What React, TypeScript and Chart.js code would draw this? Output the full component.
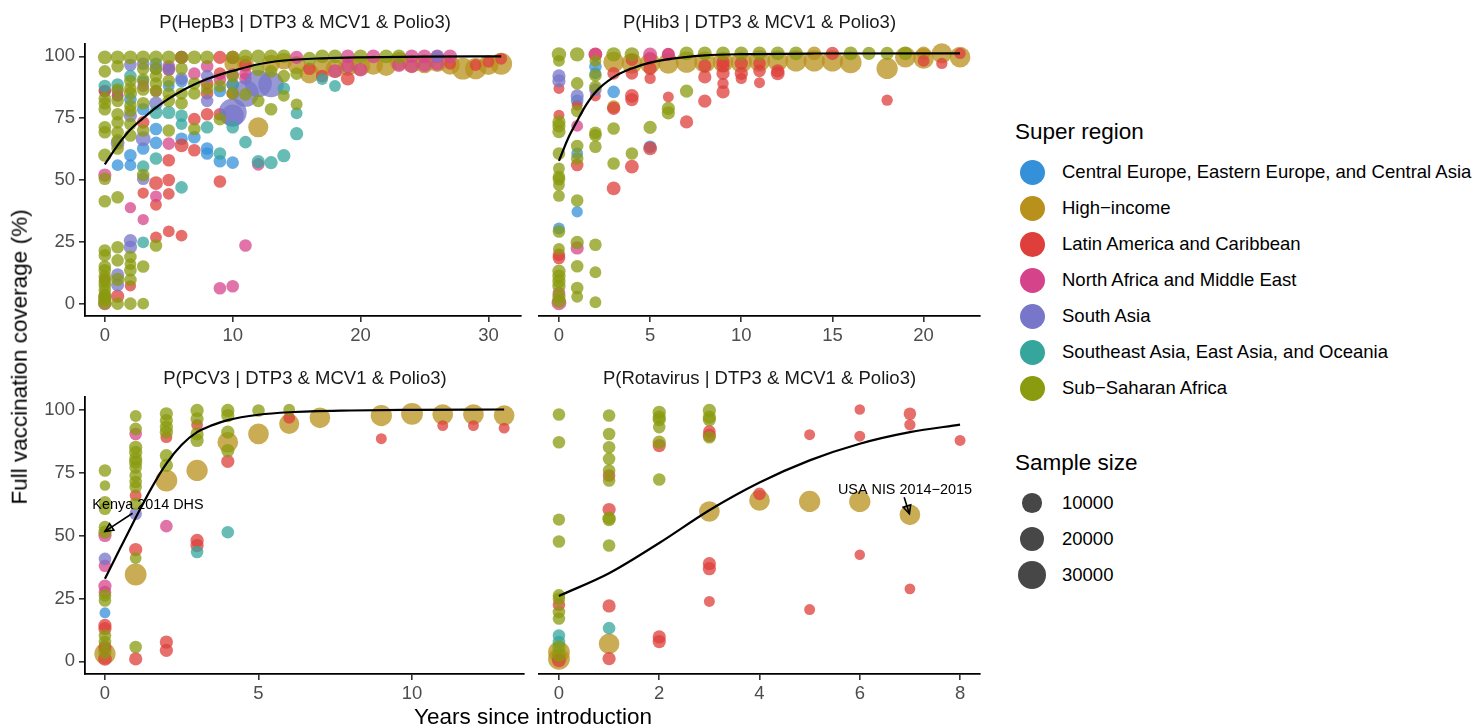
import React, { useEffect, useRef } from "react";
import { Chart, registerables } from "chart.js";
Chart.register(...registerables);

type Pt = [number, number, number]; // [years since introduction, coverage %, sample size]

// ---------------- Legend / categories ----------------
const REGION_NAMES = [
  "Central Europe, Eastern Europe, and Central Asia",
  "High\u2212income",
  "Latin America and Caribbean",
  "North Africa and Middle East",
  "South Asia",
  "Southeast Asia, East Asia, and Oceania",
  "Sub\u2212Saharan Africa",
];
const REGION_COLORS = ["#3490D8", "#B8901C", "#DE3F3B", "#D5448A", "#7776C8", "#36A69D", "#8A9B0F"];
const SAMPLE_SIZE_BREAKS = [10000, 20000, 30000];
const Y_TICKS = [0, 25, 50, 75, 100];

// ---------------- Panel 1: HepB3 ----------------
const HEPB3_CE: Pt[] = [[0,86,1500],[1,84,1500],[1,56,1500],[2,82.6,2000],[2,60,2000],[2,56,1500],[3,90,1500],[3,78.6,2000],[3,62.7,2000],[4,97,2000],[4,70.6,2000],[4,65,2000],[5,88,1500],[6,90,2000],[6,66.7,2000],[7,67.3,2000],[8,62.7,2000],[8,60.7,2000],[9,86,2000],[9,57.6,2000],[10,57,2000]];
const HEPB3_HI: Pt[] = [[10,97,6000],[11,97,6000],[12,71.3,11000],[13,97,8000],[14,98,6000],[15,96.5,8000],[16,93,10000],[17,96,9000],[18,95,9000],[19,96,10000],[20,96,10000],[21,96.5,10000],[22,96,10000],[23,98,9000],[24,97,8000],[25,97,9000],[26,97.5,9000],[27,96.5,10000],[28,95,14000],[29,95,13000],[30,96.5,11000],[31,97,14000]];
const HEPB3_LA: Pt[] = [[0,86,2000],[0,10,1500],[1,3,2500],[2,7.2,1200],[3,73.3,2000],[3,44.7,1200],[4,48.7,3000],[4,40,1500],[4,26.8,1500],[5,94.6,2000],[5,58,2000],[5,50,2000],[5,44.4,1500],[5,29.2,1500],[6,99.6,2500],[6,64,3000],[6,27.5,1500],[7,74.6,2000],[7,62,2000],[8,89,2000],[8,85,2000],[8,76.6,2000],[9,99.6,2500],[9,93,2000],[9,76.6,2000],[9,49.4,2000],[10,99.6,2500],[10,85,2000],[11,96.5,2000],[16,95,2000],[17,92,2000],[19,91,3000],[27,97,1500],[29,96.5,1500],[30,97.8,1500],[31,99,1500]];
const HEPB3_NA: Pt[] = [[0,52,2500],[0,3,2000],[0,0,2500],[1,86,1500],[1,84,1500],[2,38.8,1200],[3,88,1500],[3,34,1200],[4,86,1500],[4,43.4,1500],[5,96,2000],[5,64.7,2000],[6,99.6,2500],[7,93,2000],[8,96,2000],[9,90.6,2000],[9,6.2,2000],[10,92.6,2000],[10,88.6,2000],[10,7,2000],[11,93,2000],[11,91,2000],[11,23.5,2000],[12,56.3,2000],[15,99.6,2500],[18,94,3000],[19,100,3000],[19,96,3000],[20,94.6,3000],[21,100,3000],[23,96.5,3000],[24,100,3000],[24,96,3000],[25,100,3000],[25,96.5,3000],[26,100,3000],[26,97,3000],[27,100,3000]];
const HEPB3_SA: Pt[] = [[1,65,3000],[1,11.6,2500],[1,7.6,2500],[2,96.5,2000],[2,76,2500],[2,25.5,2500],[2,22.8,2500],[3,97,2000],[3,66.7,4000],[3,50.5,2000],[4,95,2000],[4,81,3000],[5,95,2000],[6,91,2000],[8,92,2000],[8,82,2000],[10,77.3,28000],[10,76,15000],[11,85,25000],[12,89,26000],[13,88.6,22000],[26,100,2000]];
const HEPB3_SE: Pt[] = [[0,88,2000],[1,88.6,2000],[2,92,2000],[3,55.4,2000],[3,24.8,1500],[4,77.3,2500],[4,58.7,2000],[5,77.3,2500],[6,76,2000],[6,72.6,1500],[6,47,2000],[8,71.3,2000],[9,60.7,2000],[10,88.6,2000],[10,71.3,2000],[11,65.3,2000],[12,57.4,2500],[13,57,2500],[14,87,2000],[14,59.8,2500],[15,77,1500],[15,68.7,2500],[17,90.8,1500],[18,88,1500]];
const HEPB3_SS: Pt[] = [[0,99.6,3000],[0,93.9,2000],[0,83,2000],[0,81,2000],[0,78.6,2000],[0,71.3,2000],[0,69.3,2000],[0,60,2500],[0,50.5,2000],[0,41.4,2000],[0,21.5,2000],[0,19.5,2000],[0,15,2000],[0,13.5,2000],[0,11,2000],[0,9,2000],[0,7.5,2000],[0,5.6,2000],[0,3.6,2000],[0,2.5,2500],[0,1.6,2500],[0,0.3,3000],
  [1,99.6,3000],[1,96,2000],[1,86.6,2000],[1,82,2000],[1,76.6,2000],[1,73.3,2000],[1,69.3,2000],[1,66,2000],[1,62.7,2000],[1,43,2000],[1,22.8,2000],[1,17.5,2000],[1,9.8,2500],[1,0,2000],
  [2,99.6,3000],[2,90,2000],[2,87,2000],[2,85,2500],[2,80,2000],[2,78,2000],[2,72.6,2000],[2,68,2000],[2,18.9,2000],[2,16,1500],[2,13.5,2000],[2,9.6,2000],[2,0,2000],
  [3,99.6,3000],[3,95,2000],[3,90.6,2000],[3,86.6,2000],[3,81,2000],[3,70,2000],[3,52,2000],[3,15,2000],[3,0,1500],
  [4,99.6,3000],[4,95,2000],[4,92,2000],[4,89,2000],[4,86,2000],[4,23.5,2000],
  [5,99.6,3000],[5,90,2000],[5,85,2000],[5,82,2000],[5,70,2000],
  [6,99.6,2500],[6,95,2000],[6,85,2000],[6,81,2000],
  [7,99.6,3000],[7,89,2000],[7,85,2000],[7,70.6,2000],
  [8,99.6,3000],[8,87,2000],[9,88,2000],[9,74.6,2000],
  [10,99.6,3000],[10,92,2000],[10,85,2000],[11,100,3000],[11,84.6,2000],
  [12,100,3000],[12,94.6,2000],[12,82,2000],[13,100,3000],[13,93.9,2000],[13,78.6,2000],
  [14,100,3000],[14,92,2000],[14,84,1500],[15,93,2000],[15,80.6,1500],
  [16,99,3000],[17,100,3000],[18,100,3000],[20,100,3000],[22,100,3000],[23,100,3000]];
const HEPB3_CURVE_X = [0,1,2,3,4,5,6,7,8,9,10,12,14,17,20,25,31];
const HEPB3_CURVE_Y = [56.3,64,70.4,75,79.3,82.9,86,88.6,90.8,92.6,94.1,96.8,98.3,99.2,99.6,99.9,100];
const HEPB3_X_TICKS = [0, 10, 20, 30];

// ---------------- Panel 2: Hib3 ----------------
const HIB3_CE: Pt[] = [[0,30,1500],[1,81,2000],[1,60,1500],[1,36.7,1200],[2,94.8,2000],[2,92,1500],[3,84.6,2000],[5,62.7,2000]];
const HIB3_HI: Pt[] = [[3,96.5,12000],[3,78.6,2500],[4,96,12000],[5,96,12000],[6,96,12000],[7,96.5,13000],[8,96.5,13000],[9,96.5,12000],[10,96.5,13000],[11,97,13000],[12,97,12000],[13,97,13000],[14,100,3000],[14,97,13000],[15,97,13000],[16,96.4,14000],[18,94,13000],[19,98.5,12000],[20,100,3000],[20,98,12000],[21,100,11000],[22,98.5,12000]];
const HIB3_LA: Pt[] = [[0,86,1000],[0,75.3,1000],[0,19.5,2000],[0,18.2,2000],[1,79.3,1000],[1,55.4,2000],[2,99.6,3000],[2,83,1000],[3,92,2000],[3,78,2500],[3,46,3000],[4,97.5,2000],[4,92,2000],[4,83,3000],[4,81.5,2500],[4,54.7,3000],[5,98,2500],[5,93.9,2500],[5,90,1200],[5,62,3000],[6,99.6,2000],[6,82.6,1000],[7,72.6,2500],[8,95,2500],[8,90.6,2500],[8,80.9,2500],[9,96.5,2500],[9,95,2500],[9,92,2500],[9,88,1200],[9,84.6,2500],[10,96,2500],[10,92,2500],[10,90,1200],[11,96,2000],[11,93,2000],[11,88.3,1000],[12,93,2500],[12,92,3000],[15,100,2500],[18,81.3,1200],[20,97,1500],[21,96,1200],[22,100,1200]];
const HIB3_NA: Pt[] = [[0,4.2,2000],[0,0.3,4000],[1,71,1500],[1,22.2,2500],[2,99.6,2500],[5,99.6,3000],[6,99.6,2500]];
const HIB3_SA: Pt[] = [[0,91,2500],[0,89,2500],[1,83,2500],[2,85.5,2000]];
const HIB3_SE: Pt[] = [];
const HIB3_SS: Pt[] = [[0,99.6,3500],[0,97,1500],[0,72.6,2500],[0,71,2500],[0,68.7,2500],[0,60,2000],[0,54,1500],[0,50.7,2000],[0,49.7,2000],[0,47.4,1500],[0,43,1500],[0,28.8,2000],[0,21.8,1500],[0,12.9,2500],[0,10.9,2500],[0,8.9,2500],[0,6.9,2500],[0,2.9,2500],[0,1,3000],
  [1,99.6,3500],[1,88,2000],[1,77,2000],[1,63,2000],[1,58,2000],[1,41.2,2000],[1,24.4,2500],[1,14.9,2000],[1,6.2,2000],[1,2.7,1500],
  [2,97,1500],[2,91.2,2000],[2,86.6,2000],[2,68.3,2000],[2,67.3,2000],[2,62.7,2000],[2,23.5,2000],[2,12.5,1500],[2,0.5,1500],
  [3,99.6,3500],[3,70,2000],[3,56,2000],[4,99.6,3500],[4,60,2000],[5,70.4,2500],[6,78,2500],[6,76.2,2500],
  [7,100,3000],[7,84.9,2500],[8,100,3000],[9,100,3000],[10,100,3000],[11,100,3000],[12,100,3000],[13,100,3000],[16,100,3000],[17,100,2500],[18,100,2500],[19,100,3000]];
const HIB3_CURVE_X = [0,0.5,1,1.5,2,3,4,5,6,8,10,14,22];
const HIB3_CURVE_Y = [57,66,73,79.5,84.5,90.5,94,96.3,97.7,99.2,99.7,99.95,100];
const HIB3_X_TICKS = [0, 5, 10, 15, 20];

// ---------------- Panel 3: PCV3 ----------------
const PCV3_CE: Pt[] = [[0,19.3,1000]];
const PCV3_HI: Pt[] = [[0,3,13000],[1,34.5,14000],[2,71.8,14000],[3,75.8,13000],[4,87,12000],[5,90.3,12000],[6,94.3,11000],[7,96.7,12000],[9,97.6,13000],[10,98.3,14000],[11,98,12000],[12,98,12000],[13,97.6,12000]];
const PCV3_LA: Pt[] = [[0,14.3,2500],[0,13,2500],[0,5.7,2500],[0,1,3000],[1,65.9,1500],[1,44.4,2500],[1,1,2500],[2,89,1500],[2,7.7,2500],[2,4.4,2500],[3,93.9,1500],[3,48,2500],[3,46,2500],[4,79.4,2500],[6,96.7,1500],[9,88.4,1000],[11,93.6,1000],[12,93.6,1000],[13,92.6,1000]];
const PCV3_NA: Pt[] = [[0,50,2500],[0,38,2000],[0,29.9,2500],[0,27.5,2000],[1,90.3,2000],[2,53.7,2000]];
const PCV3_SA: Pt[] = [[0,40.7,2000],[1,58.6,2000]];
const PCV3_SE: Pt[] = [[3,43.4,2000],[4,51.3,2000]];
const PCV3_SS: Pt[] = [[0,75.8,2000],[0,69.8,800],[0,63.2,2000],[0,60.6,2000],[0,53.3,2000],[0,51.3,2500],[0,26.2,2000],[0,24.2,2000],[0,10.3,2000],[0,7.7,2000],[0,3.7,2500],
  [1,97.4,1500],[1,92.3,2000],[1,85,2500],[1,83,2500],[1,80.4,2500],[1,79,2500],[1,77,2000],[1,73.8,2000],[1,71.2,2000],[1,69.2,2000],[1,62.6,2000],[1,41,1500],[1,5.7,2000],
  [2,98.3,2500],[2,95.6,2500],[2,93,2500],[2,91,2500],[2,81.7,2500],[2,77.8,2500],
  [3,99.6,2500],[3,96.3,2500],[3,90.3,2500],[3,87.7,2500],
  [4,99.6,2500],[4,97.6,2500],[4,91,2500],[4,83.7,2500],[5,99.6,2000],[6,99.9,1500]];
const PCV3_CURVE_X = [0,0.5,1,1.5,2,2.5,3,3.5,4,5,6,8,10,13];
const PCV3_CURVE_Y = [32.8,45,57,68.5,78.5,86,91,93.8,95.8,97.9,98.9,99.6,99.85,100];
const PCV3_X_TICKS = [0, 5, 10];

// ---------------- Panel 4: Rotavirus ----------------
const ROTA_CE: Pt[] = [];
const ROTA_HI: Pt[] = [[0,3.7,14000],[0,1,14000],[1,7,12000],[3,59.5,12000],[4,63.9,12000],[5,63.5,13000],[6,63.5,13000],[7,58.2,12000]];
const ROTA_LA: Pt[] = [[0,22.5,2000],[0,0.4,3000],[1,73.8,2000],[1,60.3,2500],[1,22,2500],[1,1.1,2500],[2,85.7,2500],[2,9.7,2500],[2,7.9,2500],[3,91.3,2000],[3,89.7,2500],[3,38.8,2500],[3,36.8,2500],[3,23.8,1000],[4,66.5,2000],[5,90,1000],[5,20.6,1000],[6,100,800],[6,89.4,1000],[6,42.3,800],[7,98.3,2000],[7,93.9,1200],[7,28.8,900],[8,87.7,1000]];
const ROTA_NA: Pt[] = [];
const ROTA_SA: Pt[] = [];
const ROTA_SE: Pt[] = [[0,10.3,2000],[0,7.7,2000],[1,13.2,2000]];
const ROTA_SS: Pt[] = [[0,98,2000],[0,87,2000],[0,56.3,1800],[0,47.6,2000],[0,26.2,2000],[0,24.9,2000],[0,19.6,2000],[0,17,2000],[0,5.7,2500],[0,2.4,3000],
  [1,97.6,2000],[1,90.3,2000],[1,85,2000],[1,80.4,2000],[1,75.8,2000],[1,71.8,2000],[1,56.9,2500],[1,56.3,2500],[1,46,2000],
  [2,98.9,2500],[2,97,2500],[2,96,2500],[2,93,2000],[2,87,2500],[2,72.2,2000],
  [3,99.6,2500],[3,97,2500],[3,96,2500],[3,89,2000]];
const ROTA_CURVE_X = [0,1,2,3,4,5,6,7,8];
const ROTA_CURVE_Y = [26,35,47,60,71,79.8,86.4,91,94];
const ROTA_X_TICKS = [0, 2, 4, 6, 8];

// ---------------- Annotations (data coordinates) ----------------
const KENYA_NOTE = { text: "Kenya 2014 DHS", at: [1.4, 62], from: [0.9, 58.8], to: [0.0, 51.6] };
const USA_NOTE = { text: "USA NIS 2014\u22122015", at: [6.9, 67.9], from: [6.885, 65.2], to: [6.99, 58.6] };

// ---------------- Layout ----------------
const FONT = '"Liberation Sans", Arial, Helvetica, sans-serif';
const YW = 85;
const XH = 34;
const PAD = 10;

type PanelCfg = {
  title: string;
  series: Pt[][];
  curveX: number[];
  curveY: number[];
  xRange: [number, number];
  xTicks: number[];
  showY: boolean;
  area: { left: number; top: number; right: number; bottom: number };
  notes: typeof KENYA_NOTE[];
};

const PANELS: PanelCfg[] = [
  { title: "P(HepB3 | DTP3 & MCV1 & Polio3)", series: [HEPB3_CE, HEPB3_HI, HEPB3_LA, HEPB3_NA, HEPB3_SA, HEPB3_SE, HEPB3_SS], curveX: HEPB3_CURVE_X, curveY: HEPB3_CURVE_Y, xRange: [-1.55, 32.55], xTicks: HEPB3_X_TICKS, showY: true, area: { left: 85, top: 40, right: 525, bottom: 316 }, notes: [] },
  { title: "P(Hib3 | DTP3 & MCV1 & Polio3)", series: [HIB3_CE, HIB3_HI, HIB3_LA, HIB3_NA, HIB3_SA, HIB3_SE, HIB3_SS], curveX: HIB3_CURVE_X, curveY: HIB3_CURVE_Y, xRange: [-1.1, 23.1], xTicks: HIB3_X_TICKS, showY: false, area: { left: 538, top: 40, right: 981, bottom: 316 }, notes: [] },
  { title: "P(PCV3 | DTP3 & MCV1 & Polio3)", series: [PCV3_CE, PCV3_HI, PCV3_LA, PCV3_NA, PCV3_SA, PCV3_SE, PCV3_SS], curveX: PCV3_CURVE_X, curveY: PCV3_CURVE_Y, xRange: [-0.65, 13.65], xTicks: PCV3_X_TICKS, showY: true, area: { left: 85, top: 396, right: 525, bottom: 674 }, notes: [KENYA_NOTE] },
  { title: "P(Rotavirus | DTP3 & MCV1 & Polio3)", series: [ROTA_CE, ROTA_HI, ROTA_LA, ROTA_NA, ROTA_SA, ROTA_SE, ROTA_SS], curveX: ROTA_CURVE_X, curveY: ROTA_CURVE_Y, xRange: [-0.4, 8.4], xTicks: ROTA_X_TICKS, showY: false, area: { left: 538, top: 396, right: 981, bottom: 674 }, notes: [USA_NOTE] },
];

// draw order: Sub-Saharan on top, High-income at the bottom
const DRAW_ORDER = [6, 7, 5, 4, 3, 2, 1];

const sizeToRadius = (n: number) => 3.5 + 0.0625 * Math.sqrt(n);
const rgba = (hex: string, a: number) => {
  const v = parseInt(hex.slice(1), 16);
  return `rgba(${v >> 16},${(v >> 8) & 255},${v & 255},${a})`;
};

function Panel({ cfg }: { cfg: PanelCfg }) {
  const ref = useRef<HTMLCanvasElement>(null);
  const canvasLeft = cfg.area.left - (cfg.showY ? YW : PAD);
  const canvasTop = cfg.area.top - PAD;
  const width = cfg.area.right - canvasLeft + PAD;
  const height = cfg.area.bottom - canvasTop + XH;

  useEffect(() => {
    if (!ref.current) return;
    const datasets: any[] = cfg.series.map((pts, i) => ({
      type: "bubble",
      data: pts.map(([x, y, n]) => ({ x, y, r: sizeToRadius(n) })),
      backgroundColor: rgba(REGION_COLORS[i], 0.75),
      borderWidth: 0,
      order: DRAW_ORDER[i],
    }));
    datasets.push({
      type: "line",
      data: cfg.curveX.map((x, i) => ({ x, y: cfg.curveY[i] })),
      borderColor: "#000",
      borderWidth: 2.2,
      pointRadius: 0,
      cubicInterpolationMode: "monotone",
      fill: false,
      order: 0,
    });

    const notesPlugin = {
      id: "notes",
      afterDatasetsDraw(chart: any) {
        const ctx = chart.ctx as CanvasRenderingContext2D;
        const xs = chart.scales.x, ys = chart.scales.y;
        cfg.notes.forEach((note) => {
          ctx.save();
          ctx.fillStyle = "#000";
          ctx.font = `14.4px ${FONT}`;
          ctx.textAlign = "center";
          ctx.textBaseline = "middle";
          ctx.fillText(note.text, xs.getPixelForValue(note.at[0]), ys.getPixelForValue(note.at[1]));
          const x0 = xs.getPixelForValue(note.from[0]), y0 = ys.getPixelForValue(note.from[1]);
          const x1 = xs.getPixelForValue(note.to[0]), y1 = ys.getPixelForValue(note.to[1]);
          ctx.strokeStyle = "#000";
          ctx.lineWidth = 1.6;
          ctx.beginPath();
          ctx.moveTo(x0, y0);
          ctx.lineTo(x1, y1);
          ctx.stroke();
          const ang = Math.atan2(y1 - y0, x1 - x0);
          const L = 9, A = Math.PI / 7;
          ctx.beginPath();
          ctx.moveTo(x1 - L * Math.cos(ang - A), y1 - L * Math.sin(ang - A));
          ctx.lineTo(x1, y1);
          ctx.lineTo(x1 - L * Math.cos(ang + A), y1 - L * Math.sin(ang + A));
          ctx.closePath();
          ctx.stroke();
          ctx.restore();
        });
      },
    };

    const tickFont = { family: FONT, size: 18.5 };
    const chart = new Chart(ref.current, {
      type: "bubble",
      data: { datasets },
      options: {
        responsive: false,
        animation: false,
        devicePixelRatio: 1,
        events: [],
        layout: { padding: { top: PAD, right: PAD, left: cfg.showY ? 0 : PAD, bottom: 0 } },
        plugins: { legend: { display: false }, tooltip: { enabled: false }, title: { display: false } },
        scales: {
          x: {
            type: "linear",
            min: cfg.xRange[0],
            max: cfg.xRange[1],
            afterBuildTicks: (s: any) => { s.ticks = cfg.xTicks.map((v) => ({ value: v })); },
            afterFit: (s: any) => { s.height = XH; s.paddingLeft = 0; s.paddingRight = 0; s.paddingTop = 0; s.paddingBottom = 0; },
            grid: { display: true, drawOnChartArea: false, drawTicks: true, tickLength: 6, color: "#333", lineWidth: 1.6 },
            border: { display: true, color: "#000", width: 1.8 },
            ticks: { color: "#4d4d4d", font: tickFont, padding: 3, maxRotation: 0, autoSkip: false },
          },
          y: {
            type: "linear",
            display: cfg.showY,
            min: -5,
            max: 105,
            afterBuildTicks: (s: any) => { s.ticks = Y_TICKS.map((v) => ({ value: v })); },
            afterFit: (s: any) => { s.width = cfg.showY ? YW : 0; s.paddingLeft = 0; s.paddingRight = 0; s.paddingTop = 0; s.paddingBottom = 0; },
            grid: { display: true, drawOnChartArea: false, drawTicks: true, tickLength: 6, color: "#333", lineWidth: 1.6 },
            border: { display: true, color: "#000", width: 1.8 },
            ticks: { color: "#4d4d4d", font: tickFont, padding: 4, autoSkip: false },
          },
        },
      } as any,
      plugins: [notesPlugin],
    });
    return () => chart.destroy();
  }, []);

  return (
    <canvas
      ref={ref}
      width={width}
      height={height}
      style={{ position: "absolute", left: canvasLeft, top: canvasTop, width, height }}
    />
  );
}

function Text({ x, y, text, size, color = "#000", center = false, rotate = false }: any) {
  const style: any = {
    position: "absolute",
    left: x,
    top: y,
    fontFamily: FONT,
    fontSize: size,
    lineHeight: 1,
    color,
    whiteSpace: "nowrap",
    transform: rotate ? "translate(-50%,-50%) rotate(-90deg)" : `translate(${center ? "-50%" : "0"},-50%)`,
  };
  return <div style={style}>{text}</div>;
}

function Dot({ x, y, r, color }: any) {
  return (
    <div style={{ position: "absolute", left: x - r, top: y - r, width: 2 * r, height: 2 * r, borderRadius: "50%", background: color }} />
  );
}

export default function App() {
  return (
    <div style={{ position: "fixed", left: 0, top: 0, width: 1479, height: 728, background: "#fff", overflow: "hidden" }}>
      {PANELS.map((p, i) => (
        <Panel key={i} cfg={p} />
      ))}
      {PANELS.map((p, i) => (
        <Text key={"t" + i} x={(p.area.left + p.area.right) / 2} y={p.area.top - 18} text={p.title} size={18.5} color="#1a1a1a" center />
      ))}
      <Text x={20} y={357} text="Full vaccination coverage (%)" size={22.5} rotate />
      <Text x={533} y={717} text="Years since introduction" size={22.5} center />

      <Text x={1015} y={132} text="Super region" size={22.5} />
      {REGION_NAMES.map((name, i) => (
        <React.Fragment key={name}>
          <Dot x={1032} y={172 + 36 * i} r={12.5} color={REGION_COLORS[i]} />
          <Text x={1062} y={172 + 36 * i} text={name} size={18.5} />
        </React.Fragment>
      ))}
      <Text x={1015} y={463} text="Sample size" size={22.5} />
      {SAMPLE_SIZE_BREAKS.map((n, i) => (
        <React.Fragment key={n}>
          <Dot x={1032} y={503 + 36 * i} r={sizeToRadius(n)} color="#474747" />
          <Text x={1062} y={503 + 36 * i} text={String(n)} size={18.5} />
        </React.Fragment>
      ))}
    </div>
  );
}
